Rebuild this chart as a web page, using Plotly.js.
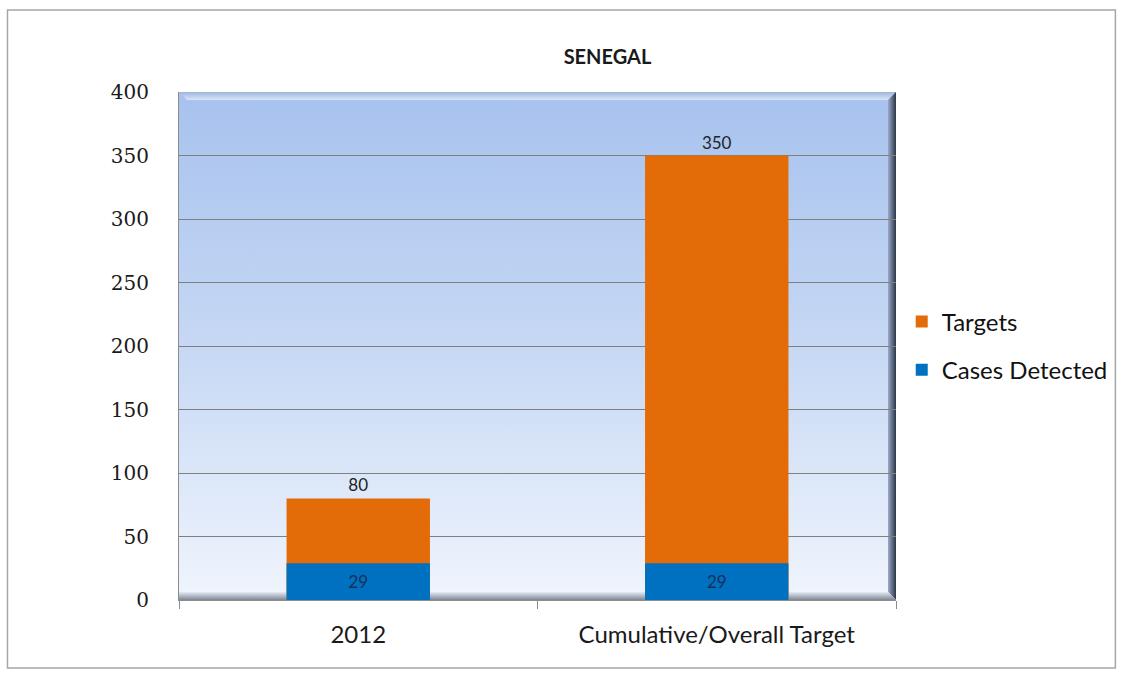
<!DOCTYPE html>
<html>
<head>
<meta charset="utf-8">
<script src="https://cdn.plot.ly/plotly-3.0.1.min.js"></script>
<style>html,body{margin:0;padding:0;background:#fff;}#chart{width:1125px;height:678px;}</style>
</head>
<body>
<div id="chart"></div>
<script>
var categories = ["2012", "Cumulative/Overall Target"];
var targets = [80, 350];
var casesDetected = [29, 29];
var yTicks = [0, 50, 100, 150, 200, 250, 300, 350, 400];

var svg = '<svg xmlns="http://www.w3.org/2000/svg" width="719" height="508" viewBox="0 0 719 508" preserveAspectRatio="none">' +
  '<defs>' +
  '<linearGradient id="g" x1="0" y1="0" x2="0" y2="1">' +
  '<stop offset="0" stop-color="#a7c2ee"/><stop offset="0.5" stop-color="#c6d8f4"/><stop offset="1" stop-color="#f0f5fd"/></linearGradient>' +
  '<linearGradient id="r" x1="0" y1="0" x2="1" y2="0">' +
  '<stop offset="0" stop-color="#9aaac6"/><stop offset="1" stop-color="#2c3548"/></linearGradient>' +
  '<linearGradient id="b" x1="0" y1="0" x2="0" y2="1">' +
  '<stop offset="0" stop-color="#e6ebf3"/><stop offset="1" stop-color="#7e8796"/></linearGradient>' +
  '<linearGradient id="t" x1="0" y1="0" x2="0" y2="1">' +
  '<stop offset="0" stop-color="#9fb4d8"/><stop offset="1" stop-color="#d6e6fa"/></linearGradient>' +
  '</defs>' +
  '<rect x="0" y="0" width="719" height="508" fill="url(#g)"/>' +
  '<polygon points="0,0 719,0 711,8 8,8" fill="url(#t)"/>' +
  '<polygon points="711,8 719,0 719,508 711,500" fill="url(#r)"/>' +
  '<polygon points="0,500 711,500 719,508 0,508" fill="url(#b)"/>' +
  '</svg>';
var bgUri = 'data:image/svg+xml;charset=utf-8,' + encodeURIComponent(svg);

var traces = [
  {
    type: 'bar', name: 'Targets', x: categories, y: targets,
    marker: {color: '#e36c09'},
    text: targets.map(String), textposition: 'outside',
    textfont: {family: 'Lato, sans-serif', size: 17, color: '#222'},
    cliponaxis: false, legendgroup: 'a', hoverinfo: 'x+y+name'
  },
  {
    type: 'bar', name: 'Cases Detected', x: categories, y: casesDetected,
    marker: {color: '#0070c0'},
    text: casesDetected.map(String), textposition: 'inside', insidetextanchor: 'middle',
    textfont: {family: 'Lato, sans-serif', size: 17, color: '#17305a'},
    legendgroup: 'b', hoverinfo: 'x+y+name'
  }
];

var layout = {
  width: 1125, height: 678,
  margin: {l: 179, r: 227, t: 92, b: 78},
  paper_bgcolor: '#ffffff',
  plot_bgcolor: 'rgba(0,0,0,0)',
  barmode: 'overlay',
  bargap: 0.6,
  showlegend: true,
  title: {
    text: '<b>SENEGAL</b>', xref: 'container', x: 0.54, xanchor: 'center',
    yref: 'container', y: 1 - 57/678, yanchor: 'middle',
    font: {family: 'Lato, sans-serif', size: 20, color: '#1a1a1a'}
  },
  xaxis: {
    type: 'category',
    showgrid: false, showline: true, linecolor: '#8c8c8c', linewidth: 1,
    ticks: 'outside', tickson: 'boundaries', ticklen: 8, tickcolor: '#8c8c8c',
    tickfont: {family: 'Lato, sans-serif', size: 24, color: '#1a1a1a'},
    ticklabelstandoff: 13,
    fixedrange: true
  },
  yaxis: {
    range: [0, 400], tickvals: yTicks,
    showgrid: true, gridcolor: '#7f7f7f', gridwidth: 1,
    showline: true, linecolor: '#8c8c8c', linewidth: 1,
    zeroline: false, ticks: '',
    ticklabelstandoff: 25,
    tickfont: {family: '"DejaVu Serif", serif', size: 20, color: '#1a1a1a'},
    fixedrange: true
  },
  legend: {
    x: 1.008, xanchor: 'left', y: 0.5, yanchor: 'middle',
    font: {family: 'Lato, sans-serif', size: 24, color: '#111'},
    tracegroupgap: 14, itemwidth: 30, traceorder: 'grouped',
    bgcolor: 'rgba(0,0,0,0)'
  },
  images: [{
    source: bgUri, xref: 'paper', yref: 'paper', x: 0, y: 1,
    sizex: 1, sizey: 1, xanchor: 'left', yanchor: 'top',
    sizing: 'stretch', layer: 'below'
  }],
  shapes: [{
    type: 'rect', xref: 'paper', yref: 'paper',
    x0: (7 - 179) / 719, x1: (1118 - 179) / 719,
    y0: (600 - 668) / 508, y1: (600 - 10) / 508,
    line: {color: '#a6a6a6', width: 1.5}, fillcolor: 'rgba(0,0,0,0)', layer: 'below'
  }]
};

Plotly.newPlot('chart', traces, layout, {staticPlot: true});
</script>
</body>
</html>
